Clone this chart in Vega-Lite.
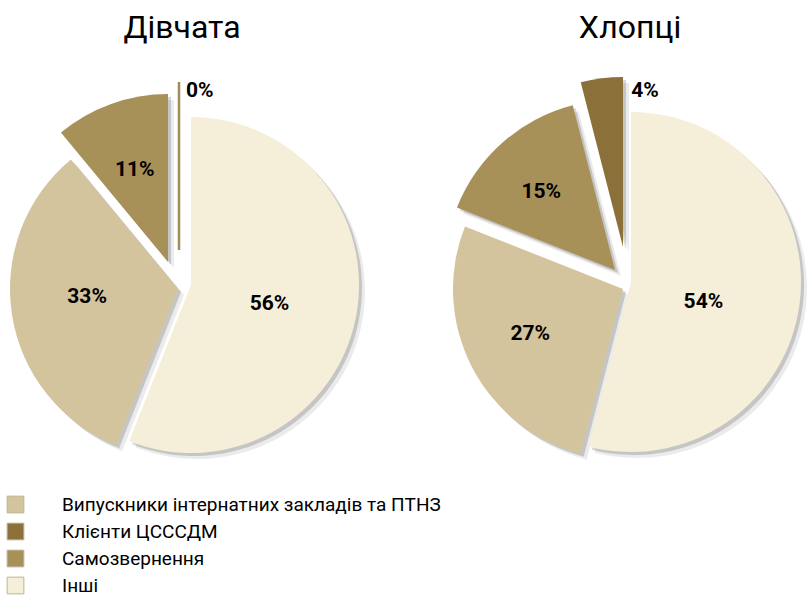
{
  "$schema": "https://vega.github.io/schema/vega-lite/v6.json",
  "padding": {"left": 0, "top": 12, "right": 0, "bottom": 0},
  "bounds": "flush",
  "background": "white",
  "data": {"values": [
    {"group": "Дівчата", "category": "Інші", "value": 0.56, "rank": 1},
    {"group": "Дівчата", "category": "Випускники інтернатних закладів та ПТНЗ", "value": 0.33, "rank": 2},
    {"group": "Дівчата", "category": "Самозвернення", "value": 0.11, "rank": 3},
    {"group": "Дівчата", "category": "Клієнти ЦСССДМ", "value": 0.0, "rank": 4},
    {"group": "Хлопці", "category": "Інші", "value": 0.54, "rank": 1},
    {"group": "Хлопці", "category": "Випускники інтернатних закладів та ПТНЗ", "value": 0.27, "rank": 2},
    {"group": "Хлопці", "category": "Самозвернення", "value": 0.15, "rank": 3},
    {"group": "Хлопці", "category": "Клієнти ЦСССДМ", "value": 0.04, "rank": 4}
  ]},
  "config": {
    "view": {"stroke": null},
    "font": "Roboto",
    "title": {"fontSize": 32, "fontWeight": "normal", "color": "#000", "font": "Roboto", "anchor": "middle"},
    "text": {"font": "Roboto", "fontSize": 21, "fontWeight": "bold", "color": "#000"},
    "concat": {"spacing": 97}
  },
  "resolve": {"scale": {"color": "shared", "theta": "independent"}},
  "hconcat": [
    {
      "width": 362, "height": 400,
      "title": {"text": "Дівчата"},
      "transform": [{"filter": "datum.group == 'Дівчата'"}],
      "encoding": {
        "theta": {"field": "value", "type": "quantitative", "stack": true},
        "order": {"field": "rank", "type": "quantitative"}
      },
      "layer": [
        {"mark": {"type": "arc", "radius": 168, "fill": "#000", "xOffset": 15, "yOffset": 42}, "encoding": {"opacity": {"condition": {"test": "datum.category == 'Інші'", "value": 0.08}, "value": 0}}},
        {"mark": {"type": "arc", "radius": 168, "fill": "#000", "xOffset": 2, "yOffset": 46}, "encoding": {"opacity": {"condition": {"test": "datum.category == 'Випускники інтернатних закладів та ПТНЗ'", "value": 0.08}, "value": 0}}},
        {"mark": {"type": "arc", "radius": 168, "fill": "#000", "xOffset": -8, "yOffset": 19}, "encoding": {"opacity": {"condition": {"test": "datum.category == 'Самозвернення'", "value": 0.08}, "value": 0}}},
        {"mark": {"type": "arc", "radius": 168, "fill": "#000", "xOffset": 12, "yOffset": 39}, "encoding": {"opacity": {"condition": {"test": "datum.category == 'Інші'", "value": 0.16}, "value": 0}}},
        {"mark": {"type": "arc", "radius": 168, "fill": "#000", "xOffset": -1, "yOffset": 43}, "encoding": {"opacity": {"condition": {"test": "datum.category == 'Випускники інтернатних закладів та ПТНЗ'", "value": 0.16}, "value": 0}}},
        {"mark": {"type": "arc", "radius": 168, "fill": "#000", "xOffset": -11, "yOffset": 16}, "encoding": {"opacity": {"condition": {"test": "datum.category == 'Самозвернення'", "value": 0.16}, "value": 0}}},
        {"mark": {"type": "arc", "radius": 168, "xOffset": 9, "yOffset": 36}, "encoding": {
          "color": {"field": "category", "type": "nominal", "scale": {"domain": ["Випускники інтернатних закладів та ПТНЗ", "Клієнти ЦСССДМ", "Самозвернення", "Інші"], "range": ["#D4C49D", "#8B7139", "#A89059", "#F5EFD9"]}, "legend": {"title": null, "orient": "none", "legendX": 5, "legendY": 446, "symbolType": "square", "symbolSize": 280, "symbolOpacity": 1, "symbolStrokeColor": "#bdb39a", "symbolStrokeWidth": 1, "labelFontSize": 19, "labelOffset": 37, "rowPadding": 6, "labelFont": "Roboto", "labelColor": "#000", "labelLimit": 600}},
          "opacity": {"condition": {"test": "datum.category == 'Інші'", "value": 1}, "value": 0}}},
        {"mark": {"type": "arc", "radius": 168, "xOffset": -4, "yOffset": 40}, "encoding": {
          "color": {"field": "category", "type": "nominal"},
          "opacity": {"condition": {"test": "datum.category == 'Випускники інтернатних закладів та ПТНЗ'", "value": 1}, "value": 0}}},
        {"mark": {"type": "arc", "radius": 168, "xOffset": -14, "yOffset": 13}, "encoding": {
          "color": {"field": "category", "type": "nominal"},
          "opacity": {"condition": {"test": "datum.category == 'Самозвернення'", "value": 1}, "value": 0}}},
        {"mark": {"type": "arc", "radius": 168, "xOffset": -3, "yOffset": 1, "stroke": "#A08A55", "strokeWidth": 2.5}, "encoding": {
          "color": {"field": "category", "type": "nominal"},
          "opacity": {"condition": {"test": "datum.category == 'Клієнти ЦСССДМ'", "value": 1}, "value": 0}}},
        {"mark": {"type": "text", "radius": 80, "xOffset": 9, "yOffset": 36, "dy": 4}, "encoding": {"text": {"field": "value", "type": "quantitative", "format": ".0%"}, "opacity": {"condition": {"test": "datum.category == 'Інші'", "value": 1}, "value": 0}}},
        {"mark": {"type": "text", "radius": 90, "xOffset": -4, "yOffset": 40, "dx": -2, "dy": -6}, "encoding": {"text": {"field": "value", "type": "quantitative", "format": ".0%"}, "opacity": {"condition": {"test": "datum.category == 'Випускники інтернатних закладів та ПТНЗ'", "value": 1}, "value": 0}}},
        {"mark": {"type": "text", "radius": 98, "xOffset": -14, "yOffset": 13}, "encoding": {"text": {"field": "value", "type": "quantitative", "format": ".0%"}, "opacity": {"condition": {"test": "datum.category == 'Самозвернення'", "value": 1}, "value": 0}}},
        {"mark": {"type": "text", "radius": 159, "xOffset": -3, "yOffset": 1, "dx": 7, "align": "left"}, "encoding": {"text": {"field": "value", "type": "quantitative", "format": ".0%"}, "opacity": {"condition": {"test": "datum.category == 'Клієнти ЦСССДМ'", "value": 1}, "value": 0}}}
      ]
    },
    {
      "width": 340, "height": 400,
      "title": {"text": "Хлопці"},
      "transform": [{"filter": "datum.group == 'Хлопці'"}],
      "encoding": {
        "theta": {"field": "value", "type": "quantitative", "stack": true},
        "order": {"field": "rank", "type": "quantitative"}
      },
      "layer": [
        {"mark": {"type": "arc", "radius": 170, "fill": "#000", "xOffset": 7, "yOffset": 39}, "encoding": {"opacity": {"condition": {"test": "datum.category == 'Інші'", "value": 0.08}, "value": 0}}},
        {"mark": {"type": "arc", "radius": 170, "fill": "#000", "xOffset": -1, "yOffset": 46}, "encoding": {"opacity": {"condition": {"test": "datum.category == 'Випускники інтернатних закладів та ПТНЗ'", "value": 0.08}, "value": 0}}},
        {"mark": {"type": "arc", "radius": 170, "fill": "#000", "xOffset": -9, "yOffset": 27}, "encoding": {"opacity": {"condition": {"test": "datum.category == 'Самозвернення'", "value": 0.08}, "value": 0}}},
        {"mark": {"type": "arc", "radius": 170, "fill": "#000", "xOffset": -1, "yOffset": 4}, "encoding": {"opacity": {"condition": {"test": "datum.category == 'Клієнти ЦСССДМ'", "value": 0.08}, "value": 0}}},
        {"mark": {"type": "arc", "radius": 170, "fill": "#000", "xOffset": 4, "yOffset": 36}, "encoding": {"opacity": {"condition": {"test": "datum.category == 'Інші'", "value": 0.16}, "value": 0}}},
        {"mark": {"type": "arc", "radius": 170, "fill": "#000", "xOffset": -4, "yOffset": 43}, "encoding": {"opacity": {"condition": {"test": "datum.category == 'Випускники інтернатних закладів та ПТНЗ'", "value": 0.16}, "value": 0}}},
        {"mark": {"type": "arc", "radius": 170, "fill": "#000", "xOffset": -12, "yOffset": 24}, "encoding": {"opacity": {"condition": {"test": "datum.category == 'Самозвернення'", "value": 0.16}, "value": 0}}},
        {"mark": {"type": "arc", "radius": 170, "fill": "#000", "xOffset": -4, "yOffset": 1}, "encoding": {"opacity": {"condition": {"test": "datum.category == 'Клієнти ЦСССДМ'", "value": 0.16}, "value": 0}}},
        {"mark": {"type": "arc", "radius": 170, "xOffset": 1, "yOffset": 33}, "encoding": {
          "color": {"field": "category", "type": "nominal"},
          "opacity": {"condition": {"test": "datum.category == 'Інші'", "value": 1}, "value": 0}}},
        {"mark": {"type": "arc", "radius": 170, "xOffset": -7, "yOffset": 40}, "encoding": {
          "color": {"field": "category", "type": "nominal"},
          "opacity": {"condition": {"test": "datum.category == 'Випускники інтернатних закладів та ПТНЗ'", "value": 1}, "value": 0}}},
        {"mark": {"type": "arc", "radius": 170, "xOffset": -15, "yOffset": 21}, "encoding": {
          "color": {"field": "category", "type": "nominal"},
          "opacity": {"condition": {"test": "datum.category == 'Самозвернення'", "value": 1}, "value": 0}}},
        {"mark": {"type": "arc", "radius": 170, "xOffset": -7, "yOffset": -2}, "encoding": {
          "color": {"field": "category", "type": "nominal"},
          "opacity": {"condition": {"test": "datum.category == 'Клієнти ЦСССДМ'", "value": 1}, "value": 0}}},
        {"mark": {"type": "text", "radius": 73, "xOffset": 1, "yOffset": 33, "dy": 11}, "encoding": {"text": {"field": "value", "type": "quantitative", "format": ".0%"}, "opacity": {"condition": {"test": "datum.category == 'Інші'", "value": 1}, "value": 0}}},
        {"mark": {"type": "text", "radius": 104, "xOffset": -7, "yOffset": 40, "dy": -2}, "encoding": {"text": {"field": "value", "type": "quantitative", "format": ".0%"}, "opacity": {"condition": {"test": "datum.category == 'Випускники інтернатних закладів та ПТНЗ'", "value": 1}, "value": 0}}},
        {"mark": {"type": "text", "radius": 107, "xOffset": -15, "yOffset": 21, "dx": -3, "dy": 2}, "encoding": {"text": {"field": "value", "type": "quantitative", "format": ".0%"}, "opacity": {"condition": {"test": "datum.category == 'Самозвернення'", "value": 1}, "value": 0}}},
        {"mark": {"type": "text", "radius": 157, "xOffset": -7, "yOffset": -2, "dx": 28, "align": "left"}, "encoding": {"text": {"field": "value", "type": "quantitative", "format": ".0%"}, "opacity": {"condition": {"test": "datum.category == 'Клієнти ЦСССДМ'", "value": 1}, "value": 0}}}
      ]
    }
  ]
}
